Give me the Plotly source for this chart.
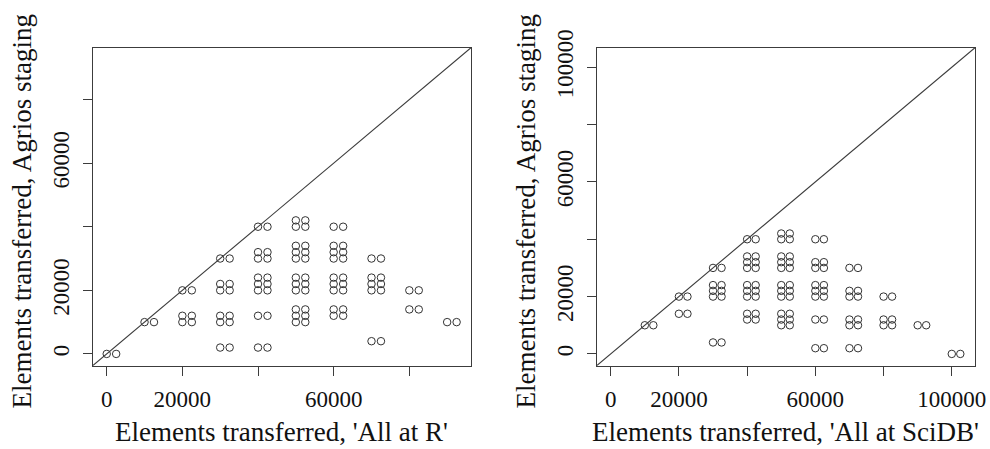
import plotly.graph_objects as go

# ---------------- data ----------------
# Left panel: x = elements transferred 'All at R', y = Agrios staging
left_x = (
    [0, 2500]
    + [10000, 12500]
    + [20000] * 3 + [22500] * 3
    + [30000] * 6 + [32500] * 6
    + [40000] * 8 + [42500] * 8
    + [50000] * 11 + [52500] * 11
    + [60000] * 9 + [62500] * 9
    + [70000] * 5 + [72500] * 5
    + [80000] * 2 + [82500] * 2
    + [90000, 92500]
)
left_y = (
    [0, 0]
    + [10000, 10000]
    + [20000, 12000, 10000] * 2
    + [30000, 22000, 20000, 12000, 10000, 2000] * 2
    + [40000, 32000, 30000, 24000, 22000, 20000, 12000, 2000] * 2
    + [42000, 40000, 34000, 32000, 30000, 24000, 22000, 20000, 14000, 12000, 10000] * 2
    + [40000, 34000, 32000, 30000, 24000, 22000, 20000, 14000, 12000] * 2
    + [30000, 24000, 22000, 20000, 4000] * 2
    + [20000, 14000] * 2
    + [10000, 10000]
)

# Right panel: x = elements transferred 'All at SciDB', y = Agrios staging
right_x = (
    [10000, 12500]
    + [20000] * 2 + [22500] * 2
    + [30000] * 5 + [32500] * 5
    + [40000] * 9 + [42500] * 9
    + [50000] * 11 + [52500] * 11
    + [60000] * 8 + [62500] * 8
    + [70000] * 6 + [72500] * 6
    + [80000] * 3 + [82500] * 3
    + [90000, 92500]
    + [100000, 102500]
)
right_y = (
    [10000, 10000]
    + [20000, 14000] * 2
    + [30000, 24000, 22000, 20000, 4000] * 2
    + [40000, 34000, 32000, 30000, 24000, 22000, 20000, 14000, 12000] * 2
    + [42000, 40000, 34000, 32000, 30000, 24000, 22000, 20000, 14000, 12000, 10000] * 2
    + [40000, 32000, 30000, 24000, 22000, 20000, 12000, 2000] * 2
    + [30000, 22000, 20000, 12000, 10000, 2000] * 2
    + [20000, 12000, 10000] * 2
    + [10000, 10000]
    + [0, 0]
)

left_ticks = [0, 20000, 40000, 60000, 80000]
left_ticktext = ["0", "20000", "", "60000", ""]
right_ticks = [0, 20000, 40000, 60000, 80000, 100000]
right_ticktext = ["0", "20000", "", "60000", "", "100000"]

left_xtitle = "Elements transferred, 'All at R'"
right_xtitle = "Elements transferred, 'All at SciDB'"
ytitle = "Elements transferred, Agrios staging"

# axis limits (R style: 4% extension of 0..max)
left_max = 92600
right_max = 102700
left_range = [-0.04 * left_max, 1.04 * left_max]
right_range = [-0.04 * right_max, 1.04 * right_max]

# ---------------- figure ----------------
W, H = 990, 449
FONT = "Liberation Serif, Times New Roman, serif"
INK = "#3c3c3c"

fig = go.Figure()
marker = dict(symbol="circle-open", size=7.5, color="#333333", line=dict(width=1, color="#333333"))
fig.add_trace(go.Scatter(x=left_x, y=left_y, mode="markers", marker=marker,
                         xaxis="x", yaxis="y", showlegend=False, cliponaxis=False))
fig.add_trace(go.Scatter(x=right_x, y=right_y, mode="markers", marker=marker,
                         xaxis="x2", yaxis="y2", showlegend=False, cliponaxis=False))

# box geometry (pixels)
L1, R1 = 92.7, 471.0
L2, R2 = 596.7, 975.0
TOP, BOT = 47.7, 365.7
ydom = [(H - BOT) / H, (H - TOP) / H]

axis_common = dict(
    showline=True, mirror=True, linecolor=INK, linewidth=1.2,
    ticks="outside", ticklen=9, tickwidth=1.2, tickcolor=INK,
    showgrid=False, zeroline=False, automargin=False,
    tickfont=dict(family=FONT, size=23, color="#111111"),
    tickmode="array", fixedrange=True,
)

fig.update_layout(
    template="none",
    width=W, height=H,
    margin=dict(l=0, r=0, t=0, b=0, pad=0),
    paper_bgcolor="white", plot_bgcolor="white",
    xaxis=dict(domain=[L1 / W, R1 / W], range=left_range, anchor="y",
               tickvals=left_ticks, ticktext=left_ticktext, ticklabelstandoff=4, **axis_common),
    yaxis=dict(domain=ydom, range=left_range, anchor="x",
               tickvals=left_ticks, ticktext=left_ticktext, tickangle=-90,
               ticklabelstandoff=4, **axis_common),
    xaxis2=dict(domain=[L2 / W, R2 / W], range=right_range, anchor="y2",
                tickvals=right_ticks, ticktext=right_ticktext, ticklabelstandoff=4, **axis_common),
    yaxis2=dict(domain=ydom, range=right_range, anchor="x2",
                tickvals=right_ticks, ticktext=right_ticktext, tickangle=-90,
                ticklabelstandoff=4, **axis_common),
    showlegend=False,
)

# diagonal y = x lines spanning each panel
fig.add_shape(type="line", xref="x", yref="y",
              x0=left_range[0], y0=left_range[0], x1=left_range[1], y1=left_range[1],
              line=dict(color=INK, width=1.1))
fig.add_shape(type="line", xref="x2", yref="y2",
              x0=right_range[0], y0=right_range[0], x1=right_range[1], y1=right_range[1],
              line=dict(color=INK, width=1.1))

title_font = dict(family=FONT, size=27, color="#111111")
xt_y = (H - 432) / H
for cx, txt in [((L1 + R1) / 2, left_xtitle), ((L2 + R2) / 2, right_xtitle)]:
    fig.add_annotation(text=txt, xref="paper", yref="paper", x=cx / W, y=xt_y,
                       xanchor="center", yanchor="middle", showarrow=False, font=title_font)
for cx in [L1 - 71, L2 - 71]:
    fig.add_annotation(text=ytitle, xref="paper", yref="paper", x=cx / W,
                       y=(H - (TOP + BOT) / 2 - 5) / H, textangle=-90,
                       xanchor="center", yanchor="middle", showarrow=False, font=title_font)

fig.write_html("out.html", config={"displayModeBar": False},
               post_script="document.body.style.margin='0';document.body.style.overflow='hidden';")
